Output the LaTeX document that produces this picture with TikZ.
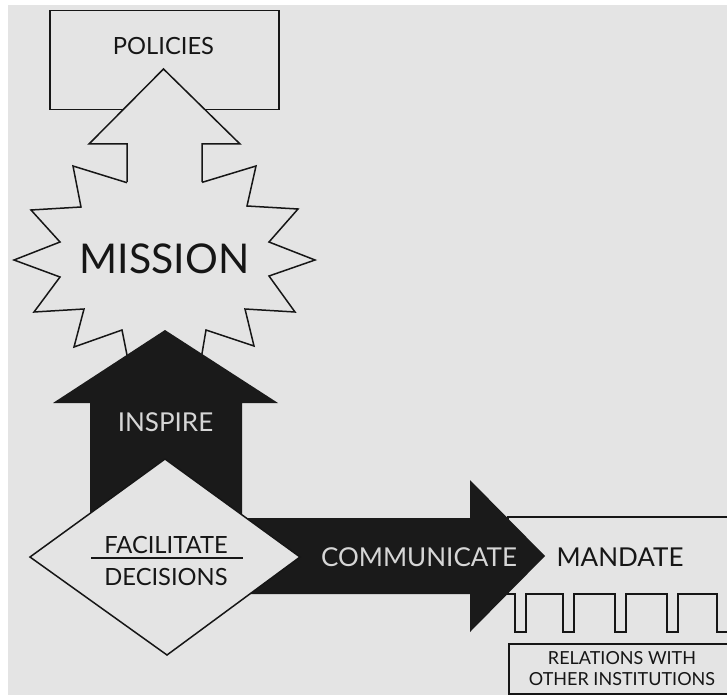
\documentclass[tikz,border=0pt]{standalone}
\usepackage{fontspec}
\newfontfamily\gs{Lato}
\definecolor{paper}{RGB}{228,228,228}
\definecolor{ink}{RGB}{22,22,22}
\definecolor{inkfill}{RGB}{26,26,26}
\definecolor{pale}{RGB}{214,214,214}
\newcommand{\capsize}[1]{\fontsize{#1}{#1}\selectfont}

\begin{document}
\begin{tikzpicture}[x=1pt,y=-1pt,
  outline/.style={draw=ink,line width=1.5pt,line join=miter},
  plainshape/.style={outline,fill=paper},
  darkshape/.style={fill=inkfill},
  txt/.style={inner sep=0pt,font=\gs,text=ink},
  lighttxt/.style={inner sep=0pt,font=\gs,text=pale},
  boxnode/.style={plainshape,inner sep=0pt,anchor=north west}]

\useasboundingbox (0,0) rectangle (727,695);
\clip (0,0) rectangle (727,695);
\fill[white] (0,0) rectangle (727,695);
\fill[paper] (8,5) rectangle (727,695);

% policies box
\node[boxnode,minimum width=229pt,minimum height=99pt] (policies) at (49,10) {};

% mission star
\draw[plainshape] (128,183) -- (73,166) -- (81,207) -- (31,210) -- (60,242)
  -- (14,260) -- (60,277) -- (34,312) -- (84,309) -- (74,347) -- (122,330)
  -- (135,395) -- (165,380) -- (195,395)
  -- (206,330) -- (254,346) -- (245,309) -- (295,312) -- (269,276)
  -- (315,260) -- (269,242) -- (298,209) -- (247,206) -- (256,166)
  -- (200,183) -- (193,150) -- (164,165) -- (135,150) -- cycle;

% white arrow from the star up to the policies
\fill[paper] (127,200) -- (127,144) -- (89,144) -- (163.5,69) -- (240,144)
  -- (202,144) -- (202,200) -- cycle;
\draw[outline] (127,182) -- (127,144) -- (89,144) -- (163.5,69) -- (240,144)
  -- (202,144) -- (202,182);

% mandate box with its toothed lower edge
\draw[plainshape] (508,594) -- (508,517) -- (740,517) -- (740,594)
  -- (728,594) -- (728,632) -- (717,632) -- (717,594)
  -- (678,594) -- (678,632) -- (667,632) -- (667,594)
  -- (626,594) -- (626,632) -- (615,632) -- (615,594)
  -- (574,594) -- (574,632) -- (563,632) -- (563,594)
  -- (526,594) -- (526,632) -- (515,632) -- (515,594) -- cycle;

% relations box
\node[boxnode,minimum width=240pt,minimum height=50pt] (relations) at (508,643) {};

% dark arrows: inspire (up) and communicate (right)
\fill[darkshape] (165,330) -- (278,403) -- (242,403) -- (242,518) -- (470,518)
  -- (470,480) -- (545,556) -- (470,632) -- (470,594) -- (90,594)
  -- (90,403) -- (53,403) -- cycle;

% decision diamond
\draw[plainshape] (30,557) -- (165,459) -- (300,557) -- (167,655) -- cycle;

% labels
\node[txt,font=\gs\capsize{23.7}] (policiesText) at (163.5,46.5) {POLICIES};
\node[txt,font=\gs\capsize{41}] (mission) at (164.5,259) {MISSION};
\node[lighttxt,font=\gs\capsize{26}] (inspire) at (165.5,422.5) {INSPIRE};
\node[txt,font=\gs\capsize{23.7}] (facilitate) at (166,545) {FACILITATE};
\node[txt,font=\gs\capsize{23.7}] (decisions) at (166,577) {DECISIONS};
\draw[outline,line width=1.4pt] (91,558) -- (243,558);
\node[lighttxt,font=\gs\capsize{26}] (communicate) at (419,557.5) {COMMUNICATE};
\node[txt,font=\gs\capsize{26}] (mandate) at (620,557.5) {MANDATE};
\node[txt,font=\gs\capsize{18},align=center] (relText) at (622,668.5)
  {RELATIONS WITH\\[3pt]OTHER INSTITUTIONS};
\end{tikzpicture}
\end{document}
